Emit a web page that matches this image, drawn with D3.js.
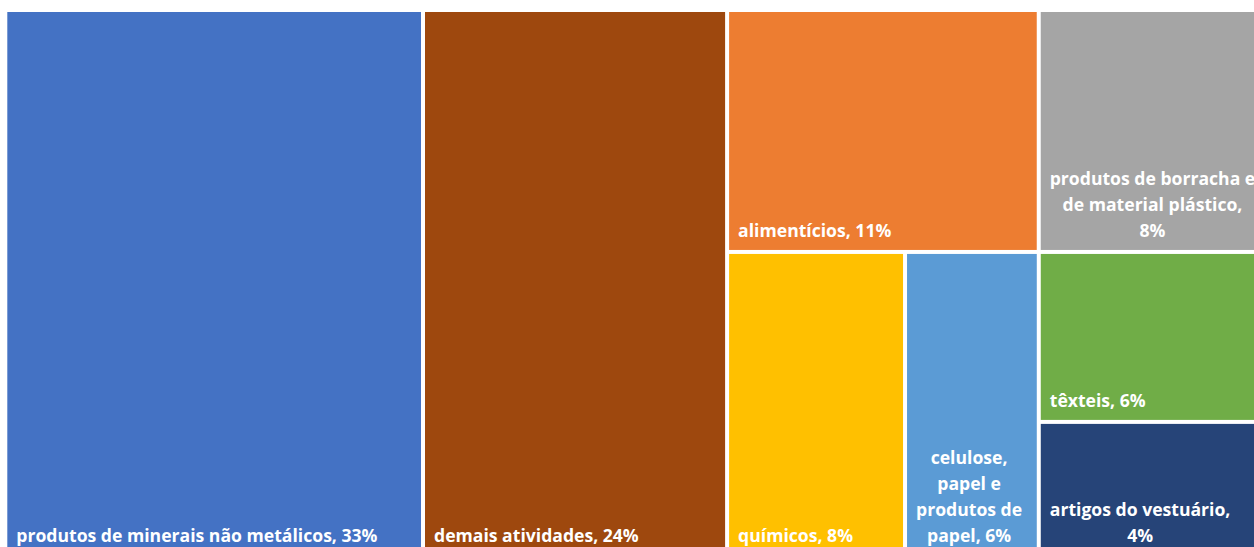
<!DOCTYPE html>
<html>
<head>
<meta charset="utf-8">
<script src="https://cdn.jsdelivr.net/npm/d3@7"></script>
<style>
  html, body { margin: 0; padding: 0; background: #ffffff; }
  svg { display: block; }
  .tile-label { font-family: "Open Sans", Lato, sans-serif; font-weight: 700; fill: #ffffff; }
</style>
</head>
<body>
<svg id="chart" width="1254" height="547"></svg>
<script>
// Industrial activities and their share of the total
const categories = [
  "produtos de minerais não metálicos",
  "demais atividades",
  "alimentícios",
  "químicos",
  "celulose, papel e produtos de papel",
  "produtos de borracha e de material plástico",
  "têxteis",
  "artigos do vestuário"
];
const shares = [33.09, 24.09, 10.94, 7.85, 5.90, 8.03, 5.64, 4.45];
const colors = ["#4472C4", "#9E480E", "#ED7D31", "#FFC000", "#5B9BD5", "#A5A5A5", "#70AD47", "#264478"];
// number of words placed on each line of a tile label
const labelLineWords = [[6], [3], [2], [2], [1, 2, 2, 2], [4, 3, 1], [2], [3, 1]];

const svg = d3.select("#chart");
const frame = { left: 7.3, top: 12, width: 1258.2, height: 542 };
const labelPad = 9, lineHeight = 26, bottomPad = 12.5, fontSize = 17.6;

const total = d3.sum(shares);
const records = categories.map((name, i) => ({ name, value: shares[i], color: colors[i], words: labelLineWords[i] }));

// Squarified tiling whose rows favour tiles slightly longer than they are thick.
function squarifyLong(ratio) {
  return function (parent, x0, y0, x1, y1) {
    const nodes = parent.children, n = nodes.length;
    let value = parent.value, i0 = 0, i1 = 0;
    while (i0 < n) {
      const dx = x1 - x0, dy = y1 - y0;
      let sum = nodes[i1++].value, minV = sum, maxV = sum;
      const alpha = Math.max(dy / dx, dx / dy) / (value * ratio);
      let beta = sum * sum * alpha;
      let best = Math.max(maxV / beta, beta / minV);
      for (; i1 < n; ++i1) {
        const v = nodes[i1].value, s = sum + v;
        const mn = Math.min(minV, v), mx = Math.max(maxV, v);
        beta = s * s * alpha;
        const r = Math.max(mx / beta, beta / mn);
        if (r > best) break;
        best = r; sum = s; minV = mn; maxV = mx;
      }
      const row = { value: sum, children: nodes.slice(i0, i1) };
      if (dx < dy) {
        const yy = y0 + dy * sum / value;
        d3.treemapDice(row, x0, y0, x1, yy);
        y0 = yy;
      } else {
        const xx = x0 + dx * sum / value;
        d3.treemapSlice(row, x0, y0, xx, y1);
        x0 = xx;
      }
      value -= sum; i0 = i1;
    }
  };
}

const root = d3.hierarchy({ children: records })
  .sum(d => d.value || 0)
  .sort((a, b) => b.value - a.value);

d3.treemap()
  .tile(squarifyLong(0.7))
  .size([frame.width, frame.height])
  .paddingInner(4)(root);

const g = svg.append("g").attr("transform", `translate(${frame.left},${frame.top})`);

const leaf = g.selectAll("g.leaf")
  .data(root.leaves())
  .join("g")
  .attr("class", "leaf");

leaf.append("rect")
  .attr("x", d => d.x0)
  .attr("y", d => d.y0)
  .attr("width", d => d.x1 - d.x0)
  .attr("height", d => d.y1 - d.y0)
  .attr("fill", d => d.data.color);

const pct = v => Math.round(v / total * 100) + "%";

// Labels sit at the bottom-left of each tile; wrapped lines are centred on one another.
leaf.each(function (d) {
  const words = `${d.data.name}, ${pct(d.data.value)}`.split(" ");
  const lines = [];
  let k = 0;
  d.data.words.forEach(c => { lines.push(words.slice(k, k + c).join(" ")); k += c; });
  const text = d3.select(this).append("text")
    .attr("class", "tile-label")
    .style("font-size", fontSize + "px");
  const spans = text.selectAll("tspan").data(lines).join("tspan").text(t => t);
  const blockW = d3.max(spans.nodes(), n => n.getComputedTextLength());
  const lastBase = d.y1 - bottomPad;
  const left = d.x0 + labelPad;
  spans
    .attr("x", lines.length > 1 ? left + blockW / 2 : left)
    .attr("text-anchor", lines.length > 1 ? "middle" : "start")
    .attr("y", (t, i) => lastBase - (lines.length - 1 - i) * lineHeight);
});
</script>
</body>
</html>
